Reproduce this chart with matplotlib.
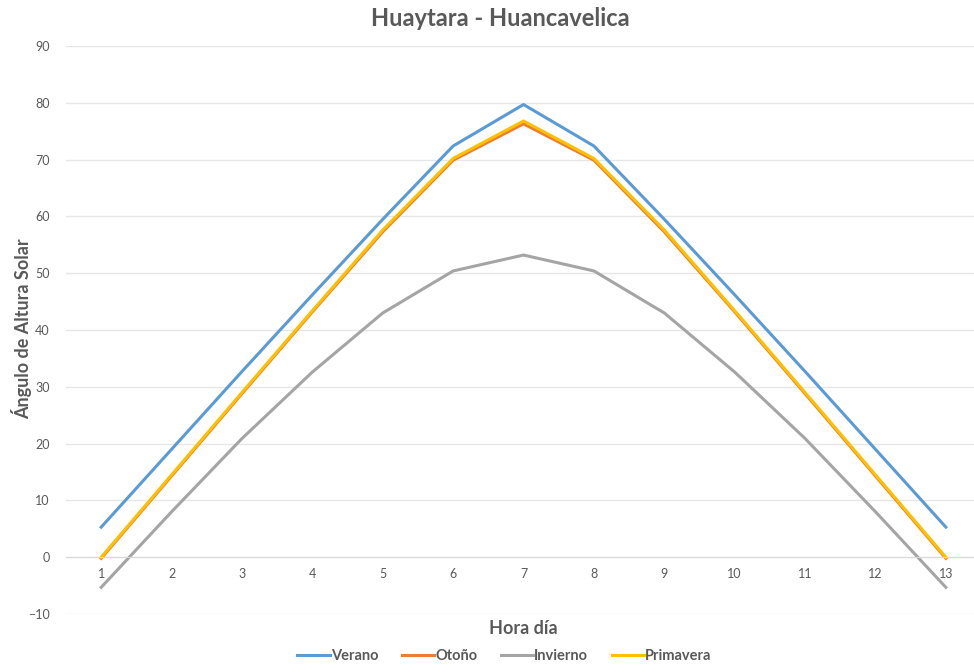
import numpy as np
import matplotlib.pyplot as plt

plt.rcParams['font.family'] = ['Lato', 'DejaVu Sans']

horas = list(range(1, 14))
verano = [5.3, 19.0, 32.7, 46.2, 59.5, 72.4, 79.7, 72.4, 59.5, 46.2, 32.7, 19.0, 5.3]
otono = [-0.2, 14.3, 28.8, 43.2, 57.3, 69.9, 76.3, 69.9, 57.3, 43.2, 28.8, 14.3, -0.2]
invierno = [-5.3, 8.0, 20.9, 32.6, 43.0, 50.4, 53.2, 50.4, 43.0, 32.6, 20.9, 8.0, -5.3]
primavera = [0.0, 14.5, 29.0, 43.4, 57.6, 70.2, 76.8, 70.2, 57.6, 43.4, 29.0, 14.5, 0.0]

gris = '#595959'

fig = plt.figure(figsize=(9.74, 6.69), dpi=100)
ax = fig.add_axes([0.068, 0.0822, 0.932, 0.849])

ax.plot(horas, verano, color='#5B9BD5', lw=2.2, label='Verano')
ax.plot(horas, otono, color='#ED7D31', lw=2.2, label='Otoño')
ax.plot(horas, invierno, color='#A5A5A5', lw=2.2, label='Invierno')
ax.plot(horas, primavera, color='#FFC000', lw=2.2, label='Primavera')

ax.set_xlim(0.503, 13.40)
ax.set_ylim(-10, 90)
ax.set_yticks(np.arange(-10, 91, 10))
ax.set_xticks(horas)
ax.grid(axis='y', color='#e6e6e6', lw=1)
ax.set_axisbelow(True)
for s in ['top', 'right', 'left']:
    ax.spines[s].set_visible(False)
ax.spines['bottom'].set_position(('data', 0))
ax.spines['bottom'].set_color('#d9d9d9')
ax.tick_params(axis='both', length=0, colors=gris, labelsize=9)
ax.tick_params(axis='x', pad=8)
ax.tick_params(axis='y', pad=12)

fig.text(0.514, 0.972, 'Huaytara - Huancavelica', ha='center', va='center',
         fontsize=17, fontweight='bold', color=gris)
fig.text(0.022, 0.508, 'Ángulo de Altura Solar', ha='center', va='center',
         rotation=90, fontsize=13, fontweight='bold', color=gris)
fig.text(0.537, 0.061, 'Hora día', ha='center', va='center',
         fontsize=13, fontweight='bold', color=gris)

leg = fig.legend(loc='center', bbox_to_anchor=(0.518, 0.019), ncol=4, frameon=False,
                 fontsize=10.5, handlelength=2.2, handletextpad=0.1, columnspacing=1.6)
for t in leg.get_texts():
    t.set_color(gris)
    t.set_fontweight('bold')

fig.savefig('out.png', dpi=100)
